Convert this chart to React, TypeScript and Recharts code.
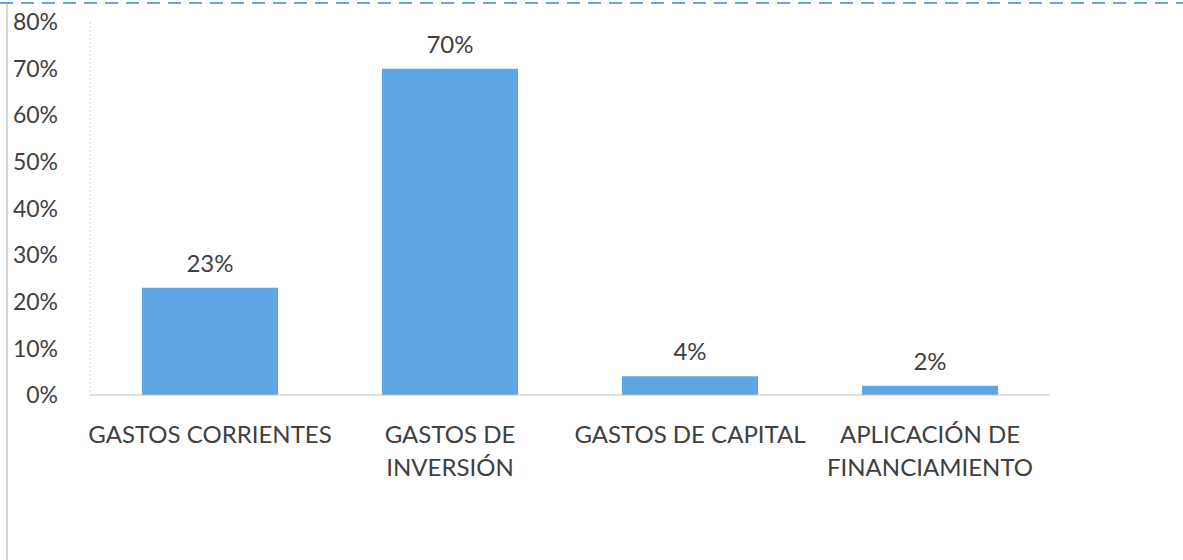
import React from 'react';
import { BarChart, Bar, XAxis, YAxis, LabelList } from 'recharts';

const categories = [
  'GASTOS CORRIENTES',
  'GASTOS DE INVERSIÓN',
  'GASTOS DE CAPITAL',
  'APLICACIÓN DE FINANCIAMIENTO',
];
const shares = [0.23, 0.7, 0.04, 0.02];
const yTicks = [0, 0.1, 0.2, 0.3, 0.4, 0.5, 0.6, 0.7, 0.8];

const data = categories.map((name, i) => ({ name, value: shares[i] }));

const FONT = 'Lato, "Open Sans", sans-serif';
const TEXT = '#404040';

const pct = (v: number) => `${Math.round(v * 100)}%`;

// greedy wrap, like Excel does for long category names
const wrap = (s: string, max = 17) => {
  const lines: string[] = [];
  let cur = '';
  s.split(' ').forEach((w) => {
    const next = cur ? cur + ' ' + w : w;
    if (next.length > max && cur) {
      lines.push(cur);
      cur = w;
    } else cur = next;
  });
  if (cur) lines.push(cur);
  return lines;
};

const CategoryTick = (props: any) => {
  const { x, y, payload } = props;
  const lines = wrap(payload.value);
  return (
    <text x={x} y={y} textAnchor="middle" fill={TEXT} fontSize={24} fontFamily={FONT}>
      {lines.map((l, i) => (
        <tspan key={i} x={x} dy={i === 0 ? 48 : 33}>
          {l}
        </tspan>
      ))}
    </text>
  );
};

export default function App() {
  return (
    <div style={{ position: 'absolute', left: 0, top: 0, width: 1183, height: 560, background: '#fff' }}>
      <svg width={1183} height={560} style={{ position: 'absolute', left: 0, top: 0 }}>
        <line x1={0} y1={3} x2={1183} y2={3} stroke="#6ea3e6" strokeWidth={2} strokeDasharray="13 8" />
        <line x1={7} y1={4} x2={7} y2={560} stroke="#c8c8c8" strokeWidth={1.5} />
      </svg>
      <div style={{ position: 'absolute', left: 0, top: 0 }}>
        <BarChart
          width={1183}
          height={560}
          data={data}
          margin={{ top: 22, right: 133, left: 0, bottom: 0 }}
          barCategoryGap={0}
        >
          <YAxis
            width={90}
            domain={[0, 0.8]}
            ticks={yTicks}
            tickFormatter={pct}
            axisLine={{ stroke: '#d0d0d0', strokeDasharray: '2 2' }}
            tickLine={false}
            tickSize={6}
            tickMargin={26}
            tick={{ fill: TEXT, fontSize: 23, fontFamily: FONT }}
          />
          <XAxis
            dataKey="name"
            height={165}
            axisLine={{ stroke: '#bfbfbf' }}
            tickLine={false}
            tickSize={0}
            tickMargin={0}
            interval={0}
            tick={<CategoryTick />}
          />
          <Bar dataKey="value" fill="#5ea6e3" barSize={136} isAnimationActive={false}>
            <LabelList
              dataKey="value"
              position="top"
              offset={16}
              formatter={(v: any) => pct(Number(v))}
              style={{ fill: TEXT, fontSize: 24, fontFamily: FONT }}
            />
          </Bar>
        </BarChart>
      </div>
    </div>
  );
}
